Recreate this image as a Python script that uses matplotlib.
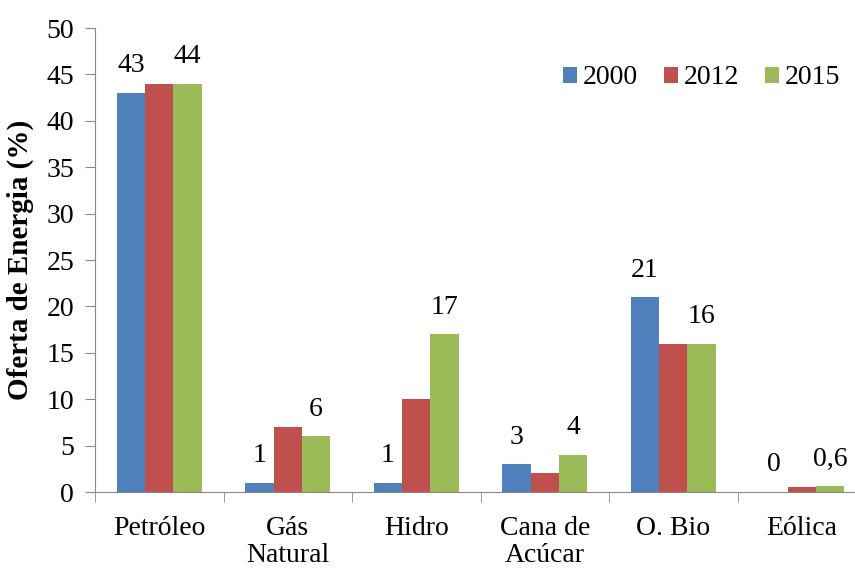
import matplotlib.pyplot as plt
import numpy as np

# data
categories = ['Petróleo', 'Gás\nNatural', 'Hidro', 'Cana de\nAcúcar', 'O. Bio', 'Eólica']
years = ['2000', '2012', '2015']
v2000 = [43, 1, 1, 3, 21, 0]
v2012 = [44, 7, 10, 2, 16, 0.5]
v2015 = [44, 6, 17, 4, 16, 0.6]
colors = ['#4F81BD', '#C0504D', '#9BBB59']

plt.rcParams['font.family'] = ['Liberation Serif', 'DejaVu Serif']

fig = plt.figure(figsize=(8.55, 5.68), dpi=100)
# axis runs a bit past the right edge like the original (cropped)
ax = fig.add_axes([95 / 855, 76 / 568, 771 / 855, 464 / 568])

x = np.arange(len(categories))
w = 0.22
series = [v2000, v2012, v2015]
for i, (vals, c) in enumerate(zip(series, colors)):
    ax.bar(x + (i - 1) * w, vals, w, color=c, label=years[i])

def fmt(v):
    return str(v).replace('.', ',') if v != int(v) else str(int(v))

# labels only for 2000 and 2015
for i in (0, 2):
    for xi, v in zip(x + (i - 1) * w, series[i]):
        ax.annotate(fmt(v), (xi, v), xytext=(0, 19.5), textcoords='offset points',
                    ha='center', va='center', fontsize=20)

ax.set_xlim(-0.5, len(categories) - 0.5)
ax.set_ylim(0, 50)
ax.set_yticks(range(0, 51, 5))
ax.set_xticks(x)
ax.set_xticklabels(categories, fontsize=20, linespacing=1.15)
ax.set_xticks(np.arange(-0.5, len(categories), 1), minor=True)
ax.tick_params(axis='x', which='major', length=0, pad=17)
ax.tick_params(axis='x', which='minor', length=7, color='#888888')
ax.tick_params(axis='y', labelsize=20, length=7, pad=8, color='#888888')

for s in ('top', 'right'):
    ax.spines[s].set_visible(False)
for s in ('left', 'bottom'):
    ax.spines[s].set_color('#888888')

ax.set_ylabel('Oferta de Energia (%)', fontsize=21, fontweight='bold', labelpad=9)

ax.legend(loc='center right', bbox_to_anchor=(840 / 855, 1 - 78 / 568),
          bbox_transform=fig.transFigure, ncol=3, frameon=False,
          fontsize=20, handlelength=0.5, handleheight=0.5, handletextpad=0.2,
          columnspacing=0.95, borderpad=0, borderaxespad=0)

fig.savefig('out.png', dpi=100)
